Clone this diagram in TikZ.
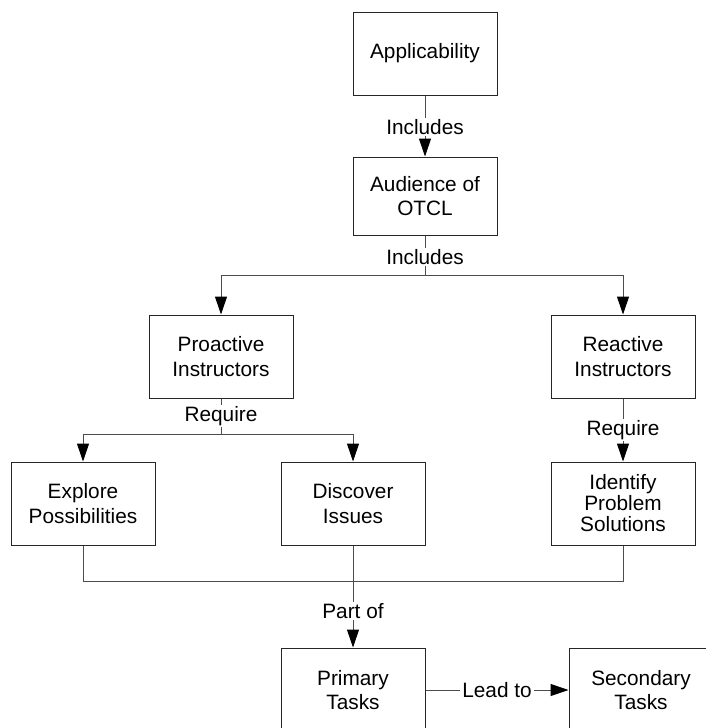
\documentclass[tikz,border=0pt]{standalone}
\usepackage{fontspec}
\setmainfont{Liberation Sans}
\usetikzlibrary{arrows.meta}
\begin{document}
\begin{tikzpicture}[x=1pt,y=-1pt,
  box/.style={draw=black!85, line width=1pt, minimum width=144pt, minimum height=83pt,
    align=center, inner sep=0pt, font=\fontsize{20.8}{24.5}\selectfont},
  lbl/.style={fill=white, inner xsep=2pt, inner ysep=1.5pt, font=\fontsize{20.8}{24}\selectfont},
  conn/.style={draw=black!70, line width=1pt},
  arr/.style={conn, -{Triangle[width=12pt,length=18pt,color=black]}}
]
\useasboundingbox (0,0) rectangle (705,728);

% boxes
\node[box] (app) at (425,53.5) {Applicability};
\node[box, minimum height=78pt] (aud) at (425,196) {Audience of\\OTCL};
\node[box] (pro) at (221,356.5) {Proactive\\Instructors};
\node[box] (rea) at (623,356.5) {Reactive\\Instructors};
\node[box] (exp) at (83,503.5) {Explore\\Possibilities};
\node[box] (dis) at (353,503.5) {Discover\\Issues};
\node[box, font=\fontsize{20.8}{21}\selectfont] (ide) at (623,503.5) {Identify\\Problem\\Solutions};
\node[box, minimum height=84pt] (pri) at (353,690) {Primary\\Tasks};
\node[box, minimum height=84pt] (sec) at (641,690) {Secondary\\Tasks};

% junction points
\coordinate (j1) at (425,275);
\coordinate (j2) at (221,434);
\coordinate (j3) at (353,581);

% connectors
\draw[arr] (app) -- node[lbl, pos=0.52] {Includes} (aud);
\draw[conn] (aud) -- node[lbl, pos=0.55] {Includes} (j1);
\draw[arr] (j1) -| (pro);
\draw[arr] (j1) -| (rea);

\draw[conn] (pro) -- node[lbl, pos=0.5] {Require} (j2);
\draw[arr] (j2) -| (exp);
\draw[arr] (j2) -| (dis);
\draw[arr] (rea) -- node[lbl, pos=0.5] {Require} (ide);

\draw[conn] (exp.south) |- (j3);
\draw[conn] (ide.south) |- (j3);
\draw[conn] (dis) -- (j3);
\draw[arr] (j3) -- node[lbl, pos=0.45] {Part of} (pri);

\draw[arr] (pri) -- node[lbl, pos=0.5] {Lead to} (sec);
\end{tikzpicture}
\end{document}
